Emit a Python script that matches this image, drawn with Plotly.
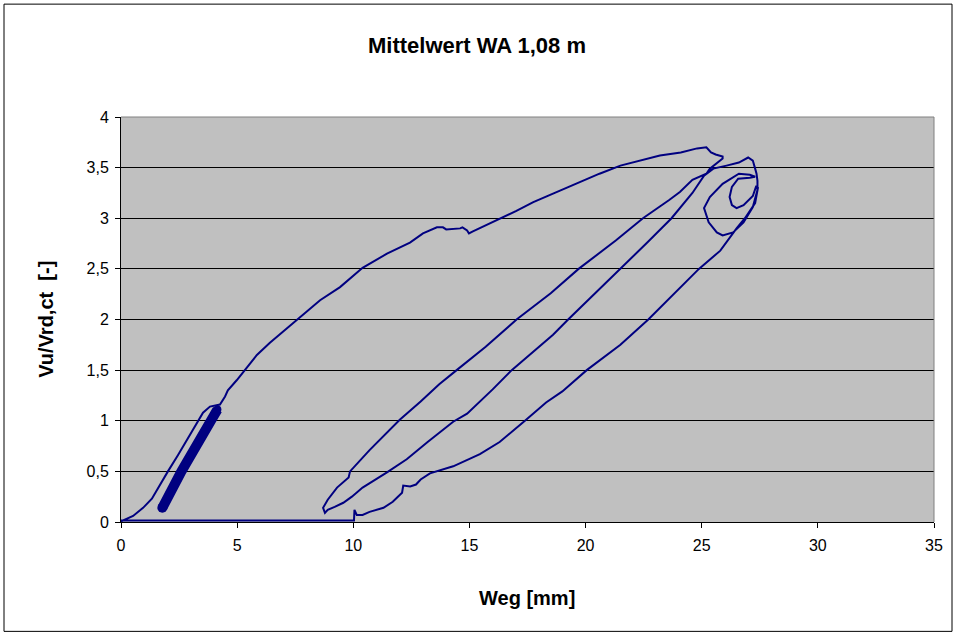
import plotly.graph_objects as go

# Vu/Vrd,ct over Weg [mm] - load path of the test, in recorded order
weg_initial = [0.0, 0.03, 0.52, 0.95, 1.33, 1.68, 2.02, 2.45, 2.88, 3.27, 3.53, 3.83, 4.26]
vu_initial = [0.0, 0.01, 0.06, 0.14, 0.23, 0.37, 0.50, 0.66, 0.83, 0.98, 1.08, 1.14, 1.16]

# repeated small cycles (dense band)
weg_cycles = [1.78, 2.60, 3.87, 4.15]
vu_cycles = [0.14, 0.50, 1.00, 1.11]

weg_envelope = [4.48, 4.60, 4.98, 5.34, 5.85, 6.41, 6.97, 7.71, 8.57, 9.43, 10.4, 11.45,
                12.44, 13.0, 13.6, 13.86, 14.0, 14.6, 14.7, 14.9, 14.98, 15.15, 16.0, 17.0,
                17.75, 18.75, 19.6, 20.6, 21.5, 22.3, 23.2, 24.1, 24.8, 25.2, 25.4, 25.6,
                25.9, 25.9, 25.6, 25.35, 25.2]
vu_envelope = [1.24, 1.30, 1.40, 1.50, 1.65, 1.77, 1.88, 2.03, 2.19, 2.32, 2.51, 2.65,
               2.76, 2.85, 2.91, 2.91, 2.89, 2.90, 2.91, 2.88, 2.85, 2.87, 2.96, 3.07,
               3.16, 3.26, 3.34, 3.44, 3.52, 3.57, 3.62, 3.65, 3.69, 3.70, 3.65, 3.63,
               3.61, 3.59, 3.54, 3.49, 3.44]

weg_unload1 = [24.6, 24.06, 23.6, 22.47, 21.3, 19.7, 18.5, 17.03, 15.7, 14.45, 13.7, 12.9,
               12.0, 10.7, 9.86, 9.80, 9.3, 8.9, 8.7, 8.78]
vu_unload1 = [3.38, 3.26, 3.18, 3.00, 2.78, 2.50, 2.26, 2.00, 1.73, 1.50, 1.36, 1.19,
              1.01, 0.71, 0.50, 0.44, 0.34, 0.22, 0.14, 0.09]

weg_reload = [8.9, 9.2, 9.57, 9.94, 10.4, 11.45, 12.3, 13.2, 14.3, 14.9, 16.0, 16.82,
              18.6, 19.25, 20.6, 21.48, 22.7, 23.7, 24.06, 24.6, 25.1,
              25.5, 26.07, 26.6, 27.0, 27.2, 27.3, 27.36, 27.4, 27.4]
vu_reload = [0.12, 0.15, 0.19, 0.25, 0.34, 0.49, 0.62, 0.79, 0.99, 1.07, 1.31, 1.50,
             1.85, 2.00, 2.30, 2.50, 2.77, 3.00, 3.10, 3.25, 3.42,
             3.49, 3.52, 3.55, 3.60, 3.57, 3.49, 3.44, 3.37, 3.28]

# cycles near the maximum displacement
weg_loops = [27.2, 26.8, 26.35, 25.9, 25.65, 25.3, 25.1, 25.35, 25.9, 26.6, 27.07, 27.3,
             27.07, 26.57, 26.3, 26.2, 26.3, 26.5, 26.8, 27.2, 27.35, 27.42]
vu_loops = [3.11, 2.96, 2.86, 2.83, 2.86, 2.96, 3.10, 3.21, 3.34, 3.44, 3.43, 3.41,
            3.40, 3.39, 3.31, 3.21, 3.13, 3.10, 3.13, 3.22, 3.32, 3.30]

weg_unload2 = [27.3, 26.86, 26.5, 25.8, 24.88, 22.7, 21.5, 20.05, 19.0, 18.3, 17.39, 16.3,
               15.45, 14.3, 13.3, 12.9, 12.7, 12.45, 12.15, 12.1, 11.7, 11.3, 10.7, 10.4,
               10.15, 10.05, 10.03, 0.0]
vu_unload2 = [3.15, 3.00, 2.90, 2.68, 2.50, 2.00, 1.75, 1.50, 1.29, 1.18, 1.00, 0.79,
              0.67, 0.55, 0.48, 0.42, 0.37, 0.35, 0.36, 0.29, 0.20, 0.14, 0.10, 0.07,
              0.07, 0.12, 0.015, 0.015]

x_ticks = [0, 5, 10, 15, 20, 25, 30, 35]
y_ticks = [0, 0.5, 1, 1.5, 2, 2.5, 3, 3.5, 4]
y_ticktext = ["0", "0,5", "1", "1,5", "2", "2,5", "3", "3,5", "4"]

navy = "#000080"
font = "Liberation Sans, Arial, sans-serif"

weg_path = weg_initial + weg_envelope + weg_unload1 + weg_reload + weg_loops + weg_unload2
vu_path = vu_initial + vu_envelope + vu_unload1 + vu_reload + vu_loops + vu_unload2

fig = go.Figure()
fig.add_trace(go.Scatter(x=weg_cycles, y=vu_cycles, mode="lines",
                         line=dict(color=navy, width=10),
                         hoverinfo="skip", showlegend=False))
# rounded ends of the cycle band
fig.add_trace(go.Scatter(x=[weg_cycles[0], weg_cycles[-1]], y=[vu_cycles[0], vu_cycles[-1]],
                         mode="markers", opacity=1,
                         marker=dict(color=navy, size=[10, 8], opacity=1, line=dict(width=0)),
                         hoverinfo="skip", showlegend=False))
fig.add_trace(go.Scatter(x=weg_path, y=vu_path, mode="lines",
                         line=dict(color=navy, width=2),
                         showlegend=False))

fig.update_layout(
    width=957, height=637,
    margin=dict(l=121, r=23, t=117, b=114.5),
    paper_bgcolor="white",
    plot_bgcolor="#C0C0C0",
    font=dict(family=font, size=16, color="black"),
    showlegend=False,
)
fig.update_xaxes(range=[0, 35], tickvals=x_ticks, showgrid=False, zeroline=False,
                 showline=True, linecolor="#000000", linewidth=1,
                 ticks="outside", ticklen=5, tickcolor="#000000",
                 ticklabelstandoff=4, tickfont=dict(size=16))
fig.update_yaxes(range=[0, 4], tickvals=y_ticks, ticktext=y_ticktext,
                 showgrid=True, gridcolor="#000000", gridwidth=1, zeroline=False,
                 showline=True, linecolor="#000000", linewidth=1,
                 ticks="outside", ticklen=5, tickcolor="#000000",
                 ticklabelstandoff=3, tickfont=dict(size=16))

# plot area frame (top/right) and chart border
fig.add_shape(type="line", xref="paper", yref="paper", x0=0, x1=1, y0=1, y1=1,
              line=dict(color="#808080", width=1), layer="above")
fig.add_shape(type="line", xref="paper", yref="paper", x0=1, x1=1, y0=0, y1=1,
              line=dict(color="#808080", width=1), layer="above")
fig.add_shape(type="rect", xref="paper", yref="paper",
              x0=(4 - 121) / 813, x1=(952 - 121) / 813,
              y0=(522.5 - 632) / 405.5, y1=(522.5 - 4) / 405.5,
              line=dict(color="#000000", width=1), fillcolor="rgba(0,0,0,0)")

fig.add_annotation(text="<b>Mittelwert WA 1,08 m</b>", xref="paper", yref="paper",
                   x=(477 - 121) / 813, y=(522.5 - 45) / 405.5, showarrow=False,
                   font=dict(size=22), xanchor="center", yanchor="middle")
fig.add_annotation(text="<b>Weg [mm]</b>", xref="paper", yref="paper",
                   x=(527 - 121) / 813, y=(522.5 - 599) / 405.5, showarrow=False,
                   font=dict(size=20), xanchor="center", yanchor="middle")
fig.add_annotation(text="<b>Vu/Vrd,ct \u00a0[-]</b>", xref="paper", yref="paper",
                   x=(46 - 121) / 813, y=(522.5 - 320) / 405.5, showarrow=False,
                   textangle=-90, font=dict(size=20), xanchor="center", yanchor="middle")

fig.write_html("out.html")
